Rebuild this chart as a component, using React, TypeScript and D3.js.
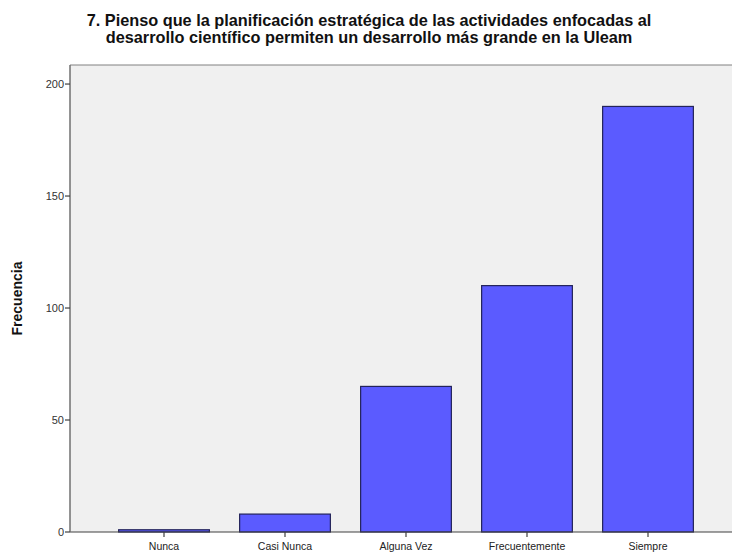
import React from "react";
import * as d3 from "d3";

const categories = ["Nunca", "Casi Nunca", "Alguna Vez", "Frecuentemente", "Siempre"];
const values = [1, 8, 65, 110, 190];
const yTicks = [0, 50, 100, 150, 200];
const titleLines = [
  "7. Pienso que la planificación estratégica de las actividades enfocadas al",
  "desarrollo científico permiten un desarrollo más grande en la Uleam",
];
const yLabel = "Frecuencia";

const W = 732;
const H = 552;
const plotLeft = 70;
const plotRight = 732;
const plotTop = 65;
const plotBottom = 532;

export default function App() {
  const x = d3.scaleBand<string>().domain(categories).range([103.5, 708.5]).paddingInner(0.25).paddingOuter(0.125);
  const y = d3.scaleLinear().domain([0, 208.5]).range([plotBottom, plotTop]);
  const font = "'Liberation Sans', Arial, sans-serif";
  return (
    <svg width={W} height={H} style={{ position: "absolute", left: 0, top: 0, background: "#fff" }}>
      <rect x={plotLeft} y={plotTop} width={plotRight - plotLeft} height={plotBottom - plotTop} fill="#f0f0f0" />
      <line x1={plotLeft} x2={plotRight} y1={plotTop} y2={plotTop} stroke="#808080" strokeWidth={1} />
      {categories.map((c, i) => (
        <rect
          key={c}
          x={x(c)!}
          y={y(values[i])}
          width={x.bandwidth()}
          height={y(0) - y(values[i])}
          fill="#5b5bff"
          stroke="#23235a"
          strokeWidth={1.2}
        />
      ))}
      <line x1={plotLeft} x2={plotRight} y1={plotBottom} y2={plotBottom} stroke="#404040" strokeWidth={1.2} />
      <line x1={plotLeft} x2={plotLeft} y1={plotTop} y2={plotBottom} stroke="#707070" strokeWidth={1.5} />
      {yTicks.map((t) => (
        <g key={t}>
          <line x1={plotLeft - 5} x2={plotLeft} y1={y(t)} y2={y(t)} stroke="#404040" strokeWidth={1.2} />
          <text x={plotLeft - 6} y={y(t)} dy="0.35em" textAnchor="end" fontSize={11} fontFamily={font} fill="#333">
            {t}
          </text>
        </g>
      ))}
      {categories.map((c) => {
        const cx = x(c)! + x.bandwidth() / 2;
        return (
          <g key={c}>
            <line x1={cx} x2={cx} y1={plotBottom} y2={plotBottom + 5} stroke="#404040" strokeWidth={1.2} />
            <text x={cx} y={plotBottom + 18} textAnchor="middle" fontSize={10.5} fontFamily={font} fill="#222">
              {c}
            </text>
          </g>
        );
      })}
      <text
        transform={`translate(22, ${(plotTop + plotBottom) / 2}) rotate(-90)`}
        textAnchor="middle"
        fontSize={14}
        fontWeight="bold"
        fontFamily={font}
        fill="#111"
      >
        {yLabel}
      </text>
      {titleLines.map((l, i) => (
        <text key={i} x={369} y={26 + i * 17} textAnchor="middle" fontSize={16.3} fontWeight="bold" fontFamily={font} fill="#111">
          {l}
        </text>
      ))}
    </svg>
  );
}
